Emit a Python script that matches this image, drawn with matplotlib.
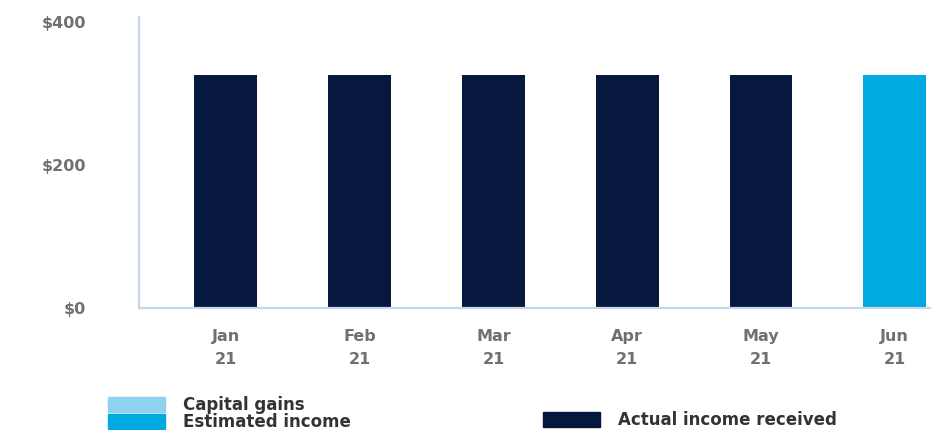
import matplotlib.pyplot as plt
from matplotlib.patches import Rectangle

months = ['Jan\n21', 'Feb\n21', 'Mar\n21', 'Apr\n21', 'May\n21', 'Jun\n21']
income = [326, 326, 326, 326, 326, 326]
is_estimate = [False, False, False, False, False, True]
y_ticks = [0, 200, 400]
y_labels = ['$0', '$200', '$400']

navy = '#07183f'
bright = '#00a9e0'
light = '#8ed1f1'
axis_col = '#c8d6ea'

plt.rcParams['font.family'] = ['DejaVu Sans']

fig = plt.figure(figsize=(9.38, 4.30), dpi=100)
ax = fig.add_axes([0.148, 0.284, 0.843, 0.676])

colors = [bright if e else navy for e in is_estimate]
x = list(range(len(months)))
ax.bar(x, income, width=0.47, color=colors)

ax.set_xlim(-0.65, 5.26)
ax.set_ylim(0, 407)
ax.set_xticks(x)
ax.set_xticklabels(months, fontsize=11.5, color='#707070', fontweight='bold',
                   linespacing=1.7)
ax.set_yticks(y_ticks)
ax.set_yticklabels(y_labels, fontsize=11.5, color='#707070', fontweight='bold')
ax.tick_params(axis='y', length=0, pad=38)
ax.tick_params(axis='x', length=0, pad=15)

for side in ['top', 'right']:
    ax.spines[side].set_visible(False)
for side in ['left', 'bottom']:
    ax.spines[side].set_color(axis_col)
    ax.spines[side].set_linewidth(1.6)

# legend drawn by hand to match the odd two-column layout
W, H = 938, 430
def legend_item(x0, y0, color, label):
    fig.add_artist(Rectangle((x0 / W, 1 - (y0 + 15) / H), 57 / W, 15 / H,
                             transform=fig.transFigure, color=color))
    fig.text((x0 + 75) / W, 1 - (y0 + 8) / H, label, fontsize=12,
             fontweight='bold', color='#333333', va='center', ha='left')

legend_item(108, 397, light, 'Capital gains')
legend_item(108, 414, bright, 'Estimated income')
legend_item(543, 412, navy, 'Actual income received')

fig.savefig('out.png', dpi=100)
